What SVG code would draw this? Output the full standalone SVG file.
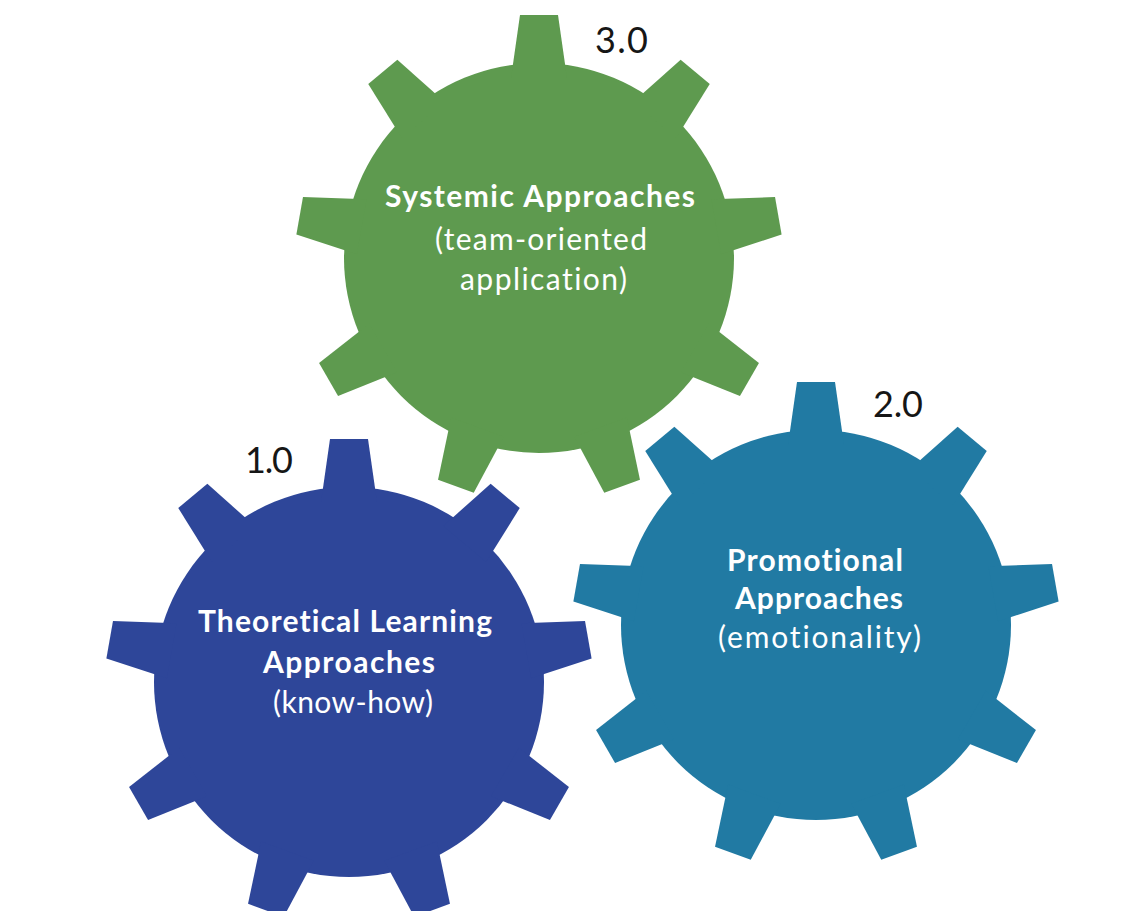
<svg xmlns="http://www.w3.org/2000/svg" width="1140" height="911" viewBox="0 0 1140 911">
<style>
.lbl{font-family:Lato,"Liberation Sans",sans-serif;fill:#ffffff;text-anchor:middle;font-size:30px;font-variant-ligatures:none}
.b{font-weight:700}
.num{font-family:Lato,"Liberation Sans",sans-serif;fill:#161616;font-size:36px}
</style>
<defs>
<path id="tooth" d="M-28,-180 L-19,-243 L19,-243 L28,-180Z"/>
<g id="gear">
<circle r="195"/>
<use href="#tooth"/>
<use href="#tooth" transform="rotate(40)"/>
<use href="#tooth" transform="rotate(80)"/>
<use href="#tooth" transform="rotate(120)"/>
<use href="#tooth" transform="rotate(160)"/>
<use href="#tooth" transform="rotate(200)"/>
<use href="#tooth" transform="rotate(240)"/>
<use href="#tooth" transform="rotate(280)"/>
<use href="#tooth" transform="rotate(320)"/>
</g>
</defs>
<rect width="1140" height="911" fill="#ffffff"/>
<g id="gear-systemic">
<use href="#gear" transform="translate(539,258)" fill="#5e9a4f"/>
<text class="lbl b" x="540" y="207" textLength="310">Systemic Approaches</text>
<text class="lbl" x="541" y="250" textLength="212">(team-oriented</text>
<text class="lbl" x="543.5" y="290" textLength="167">application)</text>
<text class="num" x="595" y="53" textLength="53">3.0</text>
</g>
<g id="gear-theoretical">
<use href="#gear" transform="translate(349,682)" fill="#2e4699"/>
<text class="lbl b" x="345" y="632" textLength="294">Theoretical Learning</text>
<text class="lbl b" x="349" y="673" textLength="172">Approaches</text>
<text class="lbl" x="353" y="713" textLength="160">(know-how)</text>
<text class="num" x="245" y="473" textLength="48">1.0</text>
</g>
<g id="gear-promotional">
<use href="#gear" transform="translate(816,625)" fill="#217aa3"/>
<text class="lbl b" x="815" y="571" textLength="176">Promotional</text>
<text class="lbl b" x="819" y="609" textLength="168">Approaches</text>
<text class="lbl" x="819.5" y="648" textLength="203">(emotionality)</text>
<text class="num" x="873" y="417" textLength="50">2.0</text>
</g>
<g id="connectors"/>
</svg>
